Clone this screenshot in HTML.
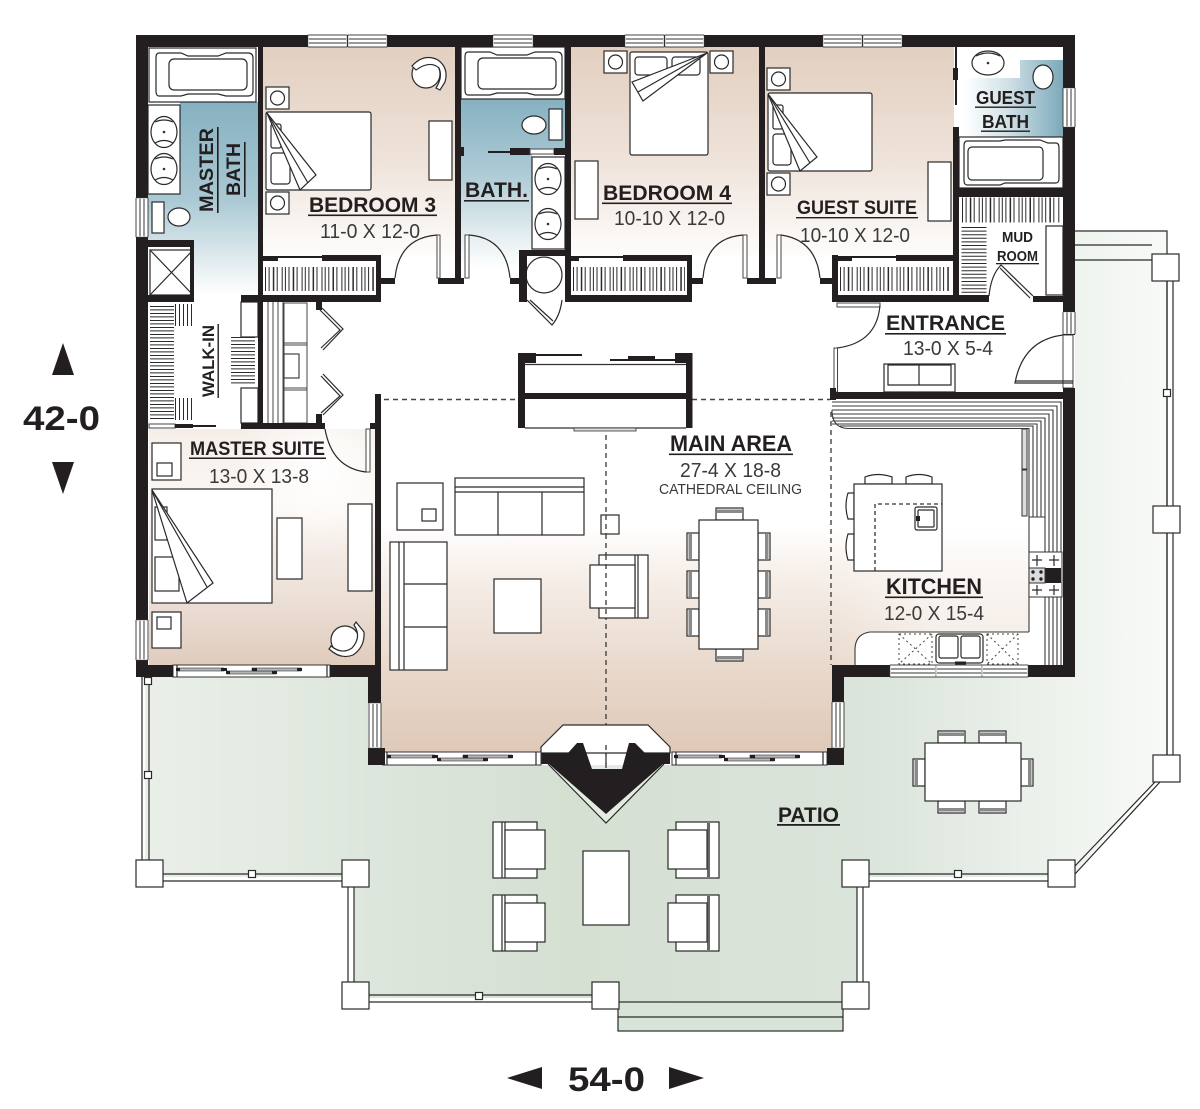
<!DOCTYPE html>
<html><head><meta charset="utf-8"><style>
html,body{margin:0;padding:0;background:#fff}
svg{display:block}
text{font-family:"Liberation Sans",sans-serif;fill:#231f20}
.b{font-weight:700}
.r{fill:#3a3a3a}
.f{fill:#fff;stroke:#2a2a2a;stroke-width:1.2}
.n{fill:none;stroke:#2a2a2a;stroke-width:1.2}
.w{fill:#231f20}
.h{fill:none;stroke:#2a2a2a}
</style></head><body>
<svg width="1200" height="1109" viewBox="0 0 1200 1109" xmlns="http://www.w3.org/2000/svg">
<defs>
<linearGradient id="pat" gradientUnits="userSpaceOnUse" x1="140" y1="0" x2="1170" y2="0"><stop offset="0" stop-color="#eaf0e9"/><stop offset=".3" stop-color="#d9e3d8"/><stop offset=".42" stop-color="#d5dfd2"/><stop offset=".7" stop-color="#dae4da"/><stop offset=".85" stop-color="#e9efe9"/><stop offset="1" stop-color="#f8faf7"/></linearGradient>
<linearGradient id="bed" gradientUnits="userSpaceOnUse" x1="0" y1="47" x2="0" y2="265"><stop offset="0" stop-color="#e2cfc0"/><stop offset=".5" stop-color="#eee2d9"/><stop offset=".8" stop-color="#f8f3ef"/><stop offset="1" stop-color="#fff"/></linearGradient>
<linearGradient id="main" gradientUnits="userSpaceOnUse" x1="0" y1="525" x2="0" y2="752"><stop offset="0" stop-color="#fff"/><stop offset=".25" stop-color="#f5ede7"/><stop offset=".65" stop-color="#e8d8cb"/><stop offset="1" stop-color="#dfc9b8"/></linearGradient>
<linearGradient id="kitw" gradientUnits="userSpaceOnUse" x1="832" y1="0" x2="930" y2="0"><stop offset="0" stop-color="#fff" stop-opacity="0"/><stop offset="1" stop-color="#fff" stop-opacity=".45"/></linearGradient>
<linearGradient id="ms" gradientUnits="userSpaceOnUse" x1="0" y1="429" x2="0" y2="665"><stop offset="0" stop-color="#f5eee8"/><stop offset=".3" stop-color="#fbf7f4"/><stop offset=".65" stop-color="#efe4dc"/><stop offset="1" stop-color="#e0ccbd"/></linearGradient>
<radialGradient id="spot" gradientUnits="userSpaceOnUse" cx="320" cy="470" r="85"><stop offset="0" stop-color="#fff"/><stop offset="1" stop-color="#fff" stop-opacity="0"/></radialGradient>
<linearGradient id="mb" gradientUnits="userSpaceOnUse" x1="0" y1="102" x2="0" y2="295"><stop offset="0" stop-color="#86b1c1"/><stop offset=".5" stop-color="#a9c8d3"/><stop offset=".8" stop-color="#dde9ed"/><stop offset="1" stop-color="#fff"/></linearGradient>
<linearGradient id="bb" gradientUnits="userSpaceOnUse" x1="0" y1="99" x2="0" y2="268"><stop offset="0" stop-color="#86b1c1"/><stop offset=".45" stop-color="#aecbd6"/><stop offset=".8" stop-color="#e3edf0"/><stop offset="1" stop-color="#fff"/></linearGradient>
<linearGradient id="gb" gradientUnits="userSpaceOnUse" x1="965" y1="0" x2="1063" y2="0"><stop offset="0" stop-color="#fff"/><stop offset=".45" stop-color="#cfe0e6"/><stop offset="1" stop-color="#7ca9ba"/></linearGradient>
<g id="nsc"><rect class="f" x="0" y="0" width="23" height="22"/><circle class="n" cx="11.5" cy="11" r="7"/></g>
<g id="tub"><path class="f" d="M3 0H25L32 3H62L70 0H92Q97 0 97 5V38Q97 43 92 43H70L62 41H32L25 43H3Q0 43 0 38V5Q0 0 3 0Z"/><rect class="f" x="13" y="6" width="78" height="31" rx="5"/></g>
<g id="sink"><ellipse class="f" cx="0" cy="0" rx="13" ry="15.5"/><path class="n" d="M-9-10Q0-14 9-10M-9 11Q0 6 9 11"/><circle cx="0" cy="0" r="1.3" fill="#333"/></g>
<g id="cT"><rect class="f" x="0" y="0" width="27" height="12"/><rect x="1" y="1.5" width="25" height="3.5" fill="#8a8a8a"/></g>
<g id="cB"><rect class="f" x="0" y="0" width="27" height="12"/><rect x="1" y="7" width="25" height="3.5" fill="#8a8a8a"/></g>
<g id="cL"><rect class="f" x="0" y="0" width="12" height="27"/><rect x="1.5" y="1" width="3.5" height="25" fill="#8a8a8a"/></g>
<g id="cR"><rect class="f" x="0" y="0" width="12" height="27"/><rect x="7" y="1" width="3.5" height="25" fill="#8a8a8a"/></g>
<g id="post"><rect class="f" x="0" y="0" width="27" height="27"/></g>
<g id="sm"><rect class="f" x="-3.5" y="-3.5" width="7" height="7"/></g>
<g id="win"><rect x="0" y="0" width="100" height="12" fill="#fff" stroke="#444" stroke-width="1"/><rect x="2" y="3" width="96" height="2" fill="#9a9a9a"/><rect x="2" y="7" width="96" height="2" fill="#9a9a9a"/></g>
<g id="slide">
<rect x="388" y="755" width="47" height="3" fill="#b5b5b5" stroke="#333" stroke-width=".6"/>
<rect x="438" y="758" width="49" height="3" fill="#b5b5b5" stroke="#333" stroke-width=".6"/>
<rect x="463" y="755" width="49" height="3" fill="#b5b5b5" stroke="#333" stroke-width=".6"/>
<rect x="387" y="755" width="4" height="3" class="w"/><rect x="432" y="755" width="6" height="3" class="w"/><rect x="437" y="758" width="4" height="3" class="w"/><rect x="483" y="758" width="5" height="3" class="w"/><rect x="463" y="755" width="5" height="3" class="w"/><rect x="508" y="755" width="5" height="3" class="w"/>
</g>
</defs>

<rect width="1200" height="1109" fill="#fff"/>

<!-- patio -->
<path fill="url(#pat)" d="M145 677H368V765H844V677H1075V232H1167V768L1072 877H857V1002H843V1031H618V998H354V877H145Z"/>
<path class="n" d="M1075 231H1167V254M1075 245H1152M1075 260H1152"/>
<path d="M1167 281V755" stroke="#555" stroke-width="1.8" fill="none"/><path class="n" d="M1173 281V755"/>
<path class="n" d="M1155 782L1075 866M1160 782L1075 874"/>
<path class="n" d="M142 677V860M149 677V860M163 874H342M163 881H342M348 887V982M354 887V982M368 995H592M368 1002H592M857 887V982M863 887V982M869 874H1048M869 881H1048"/>
<rect x="618" y="1002" width="225" height="29" fill="#d9e4d8" stroke="#2a2a2a" stroke-width="1.2"/>
<path class="n" d="M618 1017H843"/>
<use href="#post" x="136" y="860"/><use href="#post" x="342" y="860"/><use href="#post" x="342" y="982"/><use href="#post" x="592" y="982"/><use href="#post" x="842" y="982"/><use href="#post" x="842" y="860"/><use href="#post" x="1048" y="860"/><use href="#post" x="1153" y="755"/><use href="#post" x="1153" y="506"/><use href="#post" x="1152" y="254"/>
<use href="#sm" x="148" y="681"/><use href="#sm" x="148" y="775"/><use href="#sm" x="252" y="874"/><use href="#sm" x="479" y="996"/><use href="#sm" x="958" y="874"/><use href="#sm" x="1167" y="393"/>

<!-- room fills -->
<rect x="263" y="47" width="192" height="210" fill="url(#bed)"/>
<rect x="571" y="47" width="188" height="210" fill="url(#bed)"/>
<rect x="765" y="47" width="189" height="210" fill="url(#bed)"/>
<path fill="url(#mb)" d="M180 102H258V296H194V240H148V194H180Z"/>
<path fill="url(#bb)" d="M461 99H565V150H532V250H519V278H461Z"/>
<path fill="url(#gb)" d="M959 78H1020V60H1063V137H959Z"/>
<rect x="381" y="525" width="451" height="228" fill="url(#main)"/>
<path fill="url(#main)" d="M832 525H1029V632H870Q855 634 855 650V665H832Z"/>
<path fill="url(#kitw)" d="M832 525H1029V632H870Q855 634 855 650V665H832Z"/>
<rect x="149" y="429" width="226" height="237" fill="url(#ms)"/>
<rect x="235" y="429" width="140" height="130" fill="url(#spot)"/>

<!-- dashed lines -->
<g stroke="#444" stroke-width="1.4" fill="none" stroke-dasharray="5 4">
<path d="M384 399.5H518M692 399.5H830"/>
<path d="M606 399V770"/>
<path d="M831 412V665"/>
</g>

<!-- master bath -->
<rect class="f" x="149" y="48" width="107" height="54"/>
<use href="#tub" x="156" y="53"/>
<rect class="f" x="148" y="105" width="32" height="89"/>
<use href="#sink" x="164" y="132"/><use href="#sink" x="164" y="169"/>
<rect class="f" x="152" y="202" width="12" height="31"/>
<ellipse class="f" cx="179" cy="217" rx="11" ry="9"/>
<rect x="150" y="250" width="43" height="45" fill="#fff" stroke="#555" stroke-width="1.5"/>
<path class="n" d="M150 250L193 295M193 250L150 295"/>

<!-- walk-in closet -->
<rect x="149" y="302" width="109" height="124" fill="#fff"/>
<g class="h">
<line x1="162" y1="306" x2="162" y2="420" stroke-width="24" stroke-dasharray="1 2.4 1 2.6"/>
<line x1="175" y1="315" x2="192" y2="315" stroke-width="22" stroke-dasharray="1 3"/>
<line x1="175" y1="409" x2="192" y2="409" stroke-width="22" stroke-dasharray="1 3"/>
<line x1="243" y1="337" x2="243" y2="386" stroke-width="24" stroke-dasharray="1 2.4 1 2.6"/>
</g>
<rect class="f" x="241" y="302" width="17" height="35"/>
<rect class="f" x="241" y="388" width="17" height="35"/>
<rect x="149" y="424" width="26" height="4" fill="#fff" stroke="#444"/>
<rect x="175" y="424" width="18" height="4" class="w"/>
<rect x="193" y="425" width="23" height="2" class="w"/>

<!-- built-in beside walk-in -->
<path d="M268 302V423M273 302V423M278 302V423M283 302V423" stroke="#444" stroke-width="1" fill="none"/>
<rect x="284" y="303" width="23" height="120" fill="#fff" stroke="#444" stroke-width="1"/>
<path d="M284 343H307M284 345H307M284 388H307M284 390H307" stroke="#444" stroke-width=".9"/>
<rect x="284" y="354" width="15" height="24" fill="#fff" stroke="#444" stroke-width="1.2"/>
<path class="n" d="M320 310L340 330L321 348M322 308L343 329L323 350M321 376L340 396L321 413M323 374L343 395L323 415"/>
<rect x="316" y="302" width="6" height="8" class="w"/><rect x="316" y="414" width="6" height="9" class="w"/>

<!-- bedroom 3 -->
<circle class="f" cx="426" cy="74" r="14"/>
<path class="f" d="M412 66Q424 53 438 60Q449 68 445 82L440 90L436 88Q443 77 439 68Q430 60 416 70Z"/>
<use href="#nsc" x="266" y="87"/><use href="#nsc" x="266" y="192"/>
<rect class="f" x="266" y="112" width="105" height="78" rx="2"/>
<rect class="f" x="271" y="124" width="10" height="24" rx="2"/><rect class="f" x="271" y="153" width="19" height="31" rx="3"/>
<path class="f" d="M267 113L300 190L316 175Z"/><path class="n" d="M267 113L308 183"/>
<rect class="f" x="429" y="121" width="23" height="59"/>

<!-- bath -->
<rect class="f" x="461" y="47" width="104" height="52"/>
<use href="#tub" x="465" y="52"/>
<rect class="f" x="549" y="109" width="13" height="31"/>
<ellipse class="f" cx="534" cy="125" rx="12" ry="9"/>
<rect class="f" x="532" y="157" width="33" height="92"/>
<use href="#sink" x="548" y="179"/><use href="#sink" x="548" y="224"/>
<rect x="488" y="151" width="22" height="2" class="w"/><rect x="510" y="148" width="20" height="7" class="w"/>
<rect x="530" y="149" width="24" height="5" fill="#fff" stroke="#444"/><rect x="554" y="148" width="11" height="7" class="w"/>
<rect x="458" y="147" width="6" height="9" class="w"/>

<!-- heater closet -->
<rect x="527" y="256" width="38" height="44" fill="#fff"/>
<circle class="n" cx="544" cy="275" r="18"/>
<path class="n" d="M527 300L552 325Q560 316 562 300M530 300L553 321"/>

<!-- bedroom closets -->
<rect x="263" y="256" width="113" height="39" fill="#fff"/>
<rect x="571" y="262" width="116" height="33" fill="#fff"/>
<rect x="838" y="262" width="114" height="33" fill="#fff"/>
<g class="h" stroke-width="24">
<line x1="265" y1="279" x2="374" y2="279" stroke-dasharray="1 2.6 1 3.2 1.5 2.4 1 4 1 2.2"/>
<line x1="573" y1="279" x2="685" y2="279" stroke-dasharray="1 2.6 1 3.2 1.5 2.4 1 4 1 2.2"/>
<line x1="840" y1="279" x2="950" y2="279" stroke-dasharray="1 2.6 1 3.2 1.5 2.4 1 4 1 2.2"/>
</g>

<!-- bedroom 4 -->
<use href="#nsc" x="604" y="51"/><use href="#nsc" x="710" y="51"/>
<rect class="f" x="630" y="52" width="78" height="103" rx="2"/>
<rect class="f" x="635" y="57" width="32" height="18" rx="3"/><rect class="f" x="672" y="57" width="28" height="18" rx="3"/>
<path class="f" d="M707 53L632 82L643 101Z"/><path class="n" d="M707 53L638 92"/>
<rect class="f" x="575" y="161" width="23" height="58"/>

<!-- guest suite -->
<use href="#nsc" x="767" y="68"/><use href="#nsc" x="767" y="173"/>
<rect class="f" x="768" y="93" width="104" height="78" rx="2"/>
<rect class="f" x="773" y="105" width="10" height="24" rx="2"/><rect class="f" x="773" y="134" width="18" height="31" rx="3"/>
<path class="f" d="M768 94L800 171L817 157Z"/><path class="n" d="M768 94L810 163"/>
<rect class="f" x="928" y="162" width="23" height="59"/>

<!-- guest bath -->
<path d="M959 47H1063V60H1020V78H959Z" fill="#fff"/>
<ellipse class="f" cx="988" cy="63" rx="16" ry="12"/><path class="n" d="M976 56Q988 50 1000 56"/><circle cx="988" cy="63" r="1.3" fill="#333"/>
<ellipse class="f" cx="1043" cy="77" rx="10" ry="12"/>
<rect class="f" x="959" y="137" width="104" height="51"/>
<path class="f" d="M967 141H1000L1005 140H1040L1048 143H1056Q1059 143 1059 148V178Q1059 183 1056 183H1005L1000 185H967Q964 185 964 180V146Q964 141 967 141Z"/>
<rect class="f" x="968" y="147" width="75" height="33" rx="4"/>

<!-- mud room -->
<g class="h">
<line x1="962" y1="210" x2="1060" y2="210" stroke-width="25" stroke-dasharray="1 2.6 1 3.2 1.5 2.4 1 4 1 2.2"/>
<line x1="974" y1="227" x2="974" y2="293" stroke-width="25" stroke-dasharray="1 2.6"/>
</g>
<rect class="f" x="1046" y="226" width="17" height="69"/>
<path class="n" d="M989 296Q991 275 1001 265L1033 296M1000 268L1030 298"/>

<!-- entrance -->
<rect x="837" y="303" width="43" height="4" fill="#fff" stroke="#444"/>
<path class="n" d="M880 305Q877 343 837 348"/>
<rect x="834" y="348" width="3.5" height="44" fill="#fff" stroke="#444"/>
<rect class="f" x="884" y="364" width="71" height="28"/>
<path class="n" d="M888 365H951V385H888ZM919 365V385"/>
<rect x="1063" y="335" width="10" height="53" fill="#fff" stroke="#444"/>
<path class="n" d="M1063 335Q1023 340 1015 383H1073M1015 381H1073"/>

<!-- kitchen counter -->
<g fill="none" stroke="#3a3a3a" stroke-width="1.1">
<path d="M832 402H1061V665M832 406H1057V665M832 410H1053V665M832 414H1049V665M832 418H1045V665"/>
<path d="M832 421H1041V517M832 424H1037V517M840 426H1033V517"/>
<path d="M832 410V412Q833 428 848 428.5H1029V632M1029 517H1045M1029 632H870Q855 634 855 650V665"/>
</g>
<rect x="1022" y="429" width="5" height="40" fill="#ddd" stroke="#333"/><rect x="1022" y="470" width="5" height="46" fill="#ddd" stroke="#333"/>
<rect x="1029" y="552" width="33" height="45" fill="#fff" stroke="#333"/>
<rect x="1045" y="568" width="16" height="15" class="w"/>
<rect x="1029" y="568" width="16" height="15" fill="#ddd" stroke="#333"/>
<g fill="#222"><circle cx="1033" cy="572" r="1.7"/><circle cx="1041" cy="572" r="1.7"/><circle cx="1033" cy="579" r="1.7"/><circle cx="1041" cy="579" r="1.7"/></g>
<path class="n" d="M1037 555V566M1032 560H1042M1054 555V566M1049 560H1059M1037 585V595M1032 590H1042M1054 585V595M1049 590H1059"/>
<g fill="none" stroke="#444" stroke-width="1" stroke-dasharray="2 3">
<rect x="899" y="634" width="33" height="30"/><path d="M899 634L932 664M932 634L899 664"/>
<rect x="987" y="634" width="31" height="30"/><path d="M987 634L1018 664M1018 634L987 664"/>
</g>
<rect class="f" x="936" y="634" width="47" height="29" rx="3"/>
<rect class="f" x="939" y="636" width="19" height="22" rx="2"/><rect class="f" x="961" y="636" width="19" height="22" rx="2"/>
<path d="M955 663H966" stroke="#222" stroke-width="3"/>

<!-- island -->
<path class="f" d="M865 484V477Q878 472 892 477V484ZM906 484V477Q919 472 932 477V484Z"/>
<path class="f" d="M854 493H848Q844 506 848 519H854ZM854 534H848Q844 547 848 560H854Z"/>
<rect class="f" x="854" y="484" width="88" height="87"/>
<path d="M875 571V504H942" fill="none" stroke="#333" stroke-width="1.3" stroke-dasharray="4 3"/>
<rect class="f" x="915" y="507" width="22" height="23" rx="2"/><rect class="n" x="918" y="510" width="16" height="17" rx="1"/>
<rect x="916" y="516" width="4" height="5" class="w"/>

<!-- main area furniture -->
<rect class="f" x="397" y="483" width="46" height="47"/><rect class="n" x="422" y="509" width="14" height="12"/>
<rect class="f" x="455" y="478" width="129" height="57"/>
<path class="n" d="M455 487H584M455 492H584M498 492V535M542 492V535"/>
<rect class="f" x="390" y="542" width="57" height="128"/>
<path class="n" d="M399 542V670M404 542V670M404 584H447M404 627H447"/>
<rect class="f" x="494" y="579" width="47" height="54"/>
<rect class="f" x="601" y="515" width="18" height="19"/>
<path d="M606 515V534" stroke="#444" stroke-width="1.4" stroke-dasharray="5 4"/>
<rect class="f" x="599" y="555" width="49" height="63"/>
<path class="n" d="M638 555V618M635 555V618"/>
<rect class="f" x="590" y="565" width="45" height="43"/>
<path d="M606 555V618" stroke="#444" stroke-width="1.4" stroke-dasharray="5 4"/>
<use href="#cL" x="687" y="533"/><use href="#cL" x="687" y="571"/><use href="#cL" x="687" y="609"/>
<use href="#cR" x="758" y="533"/><use href="#cR" x="758" y="571"/><use href="#cR" x="758" y="609"/>
<use href="#cT" x="716" y="508"/><use href="#cB" x="716" y="649"/>
<rect class="f" x="699" y="520" width="59" height="129"/>

<!-- core block -->
<rect x="525" y="364" width="161" height="64" fill="#fff"/>
<path d="M525 364.5H686M525 428H686" stroke="#333" stroke-width="1.2"/>
<rect x="518" y="353" width="7" height="75" class="w"/><rect x="686" y="353" width="6.5" height="75" class="w"/>
<rect x="518" y="393" width="174" height="6" class="w"/>
<rect x="518" y="353" width="18" height="10" class="w"/><rect x="675" y="353" width="17.5" height="10" class="w"/>
<rect x="536" y="354" width="46" height="2" class="w"/><rect x="610" y="359" width="65" height="2" class="w"/><rect x="628" y="356" width="27" height="5" class="w"/>
<rect x="574" y="428" width="62" height="3" fill="#ddd" stroke="#333" stroke-width=".8"/>

<!-- master suite furniture -->
<rect class="f" x="152" y="443" width="29" height="37"/><rect class="n" x="157" y="463" width="15" height="13"/>
<rect class="f" x="152" y="612" width="29" height="36"/><rect class="n" x="157" y="617" width="14" height="12"/>
<rect class="f" x="152" y="489" width="120" height="114"/>
<rect class="f" x="155" y="507" width="12" height="33"/><rect class="f" x="155" y="557" width="24" height="34"/>
<path class="f" d="M152 490L187 603L213 583Z"/><path class="n" d="M152 490L207 587"/>
<rect class="f" x="277" y="518" width="25" height="61"/>
<rect class="f" x="348" y="504" width="24" height="87"/>
<circle class="f" cx="345" cy="640" r="14"/>
<path class="f" d="M329 649Q341 660 353 655Q365 647 364 632L356 622L354 625Q362 637 352 648Q342 655 331 646Z"/>
<rect x="366" y="429" width="4" height="43" fill="#fff" stroke="#444"/>
<path class="n" d="M325 429Q332 468 366 472"/>

<!-- fireplace -->
<path d="M541 753V747L563 725H648L670 747V753Z" fill="#fff" stroke="#2a2a2a" stroke-width="1.2"/>
<path fill="#e4ebe3" d="M548 765L606 823L664 765Z"/>
<path class="n" d="M548 764L606 823L664 764"/>
<path class="w" d="M541 764H549L606 814L663 764H670V753H645L635 743H629L622 769H592L583 743H577L568 753H541Z"/>
<path d="M606 745V768" stroke="#444" stroke-width="1.4" stroke-dasharray="5 4"/>

<!-- sliding windows -->
<rect x="383" y="752" width="158" height="13" fill="#fff" stroke="#333"/>
<path class="n" d="M387 752V765M536 752V765"/>
<rect x="672" y="752" width="155" height="13" fill="#fff" stroke="#333"/>
<path class="n" d="M676 752V765M823 752V765"/>
<use href="#slide"/>
<use href="#slide" x="287"/>
<rect x="173" y="665" width="157" height="12" fill="#fff" stroke="#333"/>
<path class="n" d="M177 665V677M327 665V677"/>
<use href="#slide" x="-211" y="-87"/>

<!-- walls -->
<path class="w" d="M136 35h939v12h-939zM136 35h12v642h-12zM1063 35h12v300h-12zM1063 388h12v289h-12zM136 665h37v12h-37zM330 665h51v12h-51zM375 394h6v283h-6zM368 665h13v38h-13zM368 748h17v17h-17zM832 665h58v12h-58zM1028 665h47v12h-47zM832 665h12v37h-12zM827 748h17v17h-17z"/>
<path class="w" d="M258 47h5v376h-5zM455 47h6v237h-6zM565 47h6v255h-6zM759 47h6v237h-6zM148 240h46v7h-46zM148 295h46v7h-46zM190 240h4v62h-4zM241 295h140v7h-140zM241 423h84v6h-84zM370 423h5v6h-5z"/>
<path class="w" d="M376 255h5v47h-5zM263 256h15v5h-15zM278 256h44v2h-44zM322 255h59v6h-59zM381 278h14v6h-14zM438 278h26v6h-26zM510 278h10v6h-10zM519 250h46v6h-46zM519 250h8v50h-8zM519 295h8v7h-8z"/>
<path class="w" d="M565 295h127v7h-127zM565 256h14v5h-14zM579 256h44v2h-44zM623 255h69v6h-69zM687 255h5v47h-5zM692 278h11v6h-11zM747 278h29v6h-29zM820 278h12v6h-12z"/>
<path class="w" d="M832 255h6v47h-6zM832 295h157v7h-157zM1033 296h30v6h-30zM838 256h14v5h-14zM852 256h44v2h-44zM896 255h63v6h-63zM953 127h6v175h-6zM955 47h2v58h-2zM953 68h5v12h-5zM959 188h104v9h-104zM832 392h231v7h-231zM830 388h6v12h-6z"/>

<!-- door leaves and swings -->
<rect x="437" y="235" width="3" height="43" fill="#fff" stroke="#444"/>
<rect x="465" y="235" width="4" height="43" fill="#fff" stroke="#444"/>
<rect x="743" y="235" width="4" height="43" fill="#fff" stroke="#444"/>
<rect x="777" y="235" width="4" height="43" fill="#fff" stroke="#444"/>
<path class="n" d="M395 278Q399 238 437 235M469 235Q506 238 510 278M703 278Q706 238 743 235M781 235Q816 240 820 278"/>

<!-- wall windows -->
<use href="#win" transform="translate(308 35) scale(.39 1)"/><use href="#win" transform="translate(348 35) scale(.39 1)"/>
<use href="#win" transform="translate(493 35) scale(.4 1)"/>
<use href="#win" transform="translate(625 35) scale(.39 1)"/><use href="#win" transform="translate(665 35) scale(.39 1)"/>
<use href="#win" transform="translate(823 35) scale(.39 1)"/><use href="#win" transform="translate(863 35) scale(.39 1)"/>
<use href="#win" transform="translate(890 665) scale(.46 1)"/><use href="#win" transform="translate(936 665) scale(.46 1)"/><use href="#win" transform="translate(982 665) scale(.46 1)"/>
<use href="#win" transform="translate(148 198) rotate(90) scale(.39 1)"/>
<use href="#win" transform="translate(148 620) rotate(90) scale(.4 1)"/>
<use href="#win" transform="translate(381 703) rotate(90) scale(.45 1)"/>
<use href="#win" transform="translate(844 702) rotate(90) scale(.46 1)"/>
<use href="#win" transform="translate(1075 88) rotate(90) scale(.39 1)"/>
<use href="#win" transform="translate(1075 312) rotate(90) scale(.22 1)"/>

<!-- labels -->
<text class="b" x="309" y="212" font-size="21" textLength="127" lengthAdjust="spacingAndGlyphs">BEDROOM 3</text><rect x="308" y="214.5" width="129" height="1.6" class="w"/>
<text class="r" x="320" y="238" font-size="20" textLength="100" lengthAdjust="spacingAndGlyphs">11-0 X 12-0</text>
<text class="b" x="465" y="197" font-size="21" textLength="63" lengthAdjust="spacingAndGlyphs">BATH.</text><rect x="464" y="200" width="65" height="1.6" class="w"/>
<text class="b" transform="translate(213 212) rotate(-90)" font-size="19" textLength="84" lengthAdjust="spacingAndGlyphs">MASTER</text><rect x="217" y="127" width="1.6" height="86" class="w"/>
<text class="b" transform="translate(240 196) rotate(-90)" font-size="19" textLength="53" lengthAdjust="spacingAndGlyphs">BATH</text><rect x="244" y="142" width="1.6" height="55" class="w"/>
<text class="b" x="603" y="200" font-size="21" textLength="128" lengthAdjust="spacingAndGlyphs">BEDROOM 4</text><rect x="602" y="202.5" width="130" height="1.6" class="w"/>
<text class="r" x="614" y="225" font-size="20" textLength="111" lengthAdjust="spacingAndGlyphs">10-10 X 12-0</text>
<text class="b" x="797" y="214" font-size="19" textLength="120" lengthAdjust="spacingAndGlyphs">GUEST SUITE</text><rect x="796" y="217" width="122" height="1.4" class="w"/>
<text class="r" x="800" y="242" font-size="20" textLength="110" lengthAdjust="spacingAndGlyphs">10-10 X 12-0</text>
<text class="b" x="976" y="104" font-size="18" textLength="59" lengthAdjust="spacingAndGlyphs">GUEST</text><rect x="975" y="106.5" width="61" height="1.4" class="w"/>
<text class="b" x="982" y="128" font-size="18" textLength="47" lengthAdjust="spacingAndGlyphs">BATH</text><rect x="981" y="130.5" width="49" height="1.4" class="w"/>
<text class="b" x="1002" y="242" font-size="14.5" textLength="31" lengthAdjust="spacingAndGlyphs">MUD</text>
<text class="b" x="997" y="261" font-size="14.5" textLength="41" lengthAdjust="spacingAndGlyphs">ROOM</text><rect x="996" y="263" width="43" height="1.3" class="w"/>
<text class="b" x="886" y="330" font-size="21" textLength="119" lengthAdjust="spacingAndGlyphs">ENTRANCE</text><rect x="885" y="333" width="121" height="1.6" class="w"/>
<text class="r" x="903" y="355" font-size="20" textLength="90" lengthAdjust="spacingAndGlyphs">13-0 X 5-4</text>
<text class="b" x="190" y="455" font-size="19" textLength="135" lengthAdjust="spacingAndGlyphs">MASTER SUITE</text><rect x="189" y="457.5" width="137" height="1.5" class="w"/>
<text class="r" x="209" y="483" font-size="20" textLength="100" lengthAdjust="spacingAndGlyphs">13-0 X 13-8</text>
<text class="b" transform="translate(214 397) rotate(-90)" font-size="17" textLength="72" lengthAdjust="spacingAndGlyphs">WALK-IN</text><rect x="217.5" y="324" width="1.4" height="74" class="w"/>
<text class="b" x="670" y="451" font-size="22" textLength="122" lengthAdjust="spacingAndGlyphs">MAIN AREA</text><rect x="669" y="453.5" width="124" height="1.6" class="w"/>
<text class="r" x="680" y="477" font-size="20" textLength="101" lengthAdjust="spacingAndGlyphs">27-4 X 18-8</text>
<text class="r" x="659" y="494" font-size="15" textLength="143" lengthAdjust="spacingAndGlyphs">CATHEDRAL CEILING</text>
<text class="b" x="886" y="594" font-size="22" textLength="96" lengthAdjust="spacingAndGlyphs">KITCHEN</text><rect x="885" y="596.5" width="98" height="1.6" class="w"/>
<text class="r" x="884" y="620" font-size="20" textLength="100" lengthAdjust="spacingAndGlyphs">12-0 X 15-4</text>
<text class="b" x="778" y="822" font-size="21" textLength="61" lengthAdjust="spacingAndGlyphs">PATIO</text><rect x="777" y="824" width="63" height="1.8" class="w"/>
<text class="b" x="23" y="430" font-size="34" textLength="77" lengthAdjust="spacingAndGlyphs">42-0</text>
<text class="b" x="568" y="1091" font-size="34" textLength="77" lengthAdjust="spacingAndGlyphs">54-0</text>
<path class="w" d="M52 375H74L63 343ZM52 462H74L63 494ZM542 1067V1089L507 1078ZM669 1067V1089L704 1078Z"/>

<!-- patio furniture -->
<use href="#cT" x="938" y="731"/><use href="#cT" x="979" y="731"/>
<use href="#cB" x="938" y="801"/><use href="#cB" x="979" y="801"/>
<use href="#cL" x="913" y="759"/><use href="#cR" x="1021" y="759"/>
<rect class="f" x="925" y="743" width="96" height="58"/>
<g id="chR">
<rect class="f" x="676" y="822" width="43" height="56"/>
<rect x="707" y="823" width="3" height="54" fill="#666"/>
<rect class="f" x="668" y="830" width="39" height="39"/>
</g>
<use href="#chR" y="73"/>
<g id="chL">
<rect class="f" x="493" y="822" width="44" height="56"/>
<path class="n" d="M502 822V878M505 822V878"/>
<rect class="f" x="505" y="830" width="40" height="39"/>
</g>
<use href="#chL" y="73"/>
<rect class="f" x="583" y="851" width="46" height="74"/>
</svg>
</body></html>
